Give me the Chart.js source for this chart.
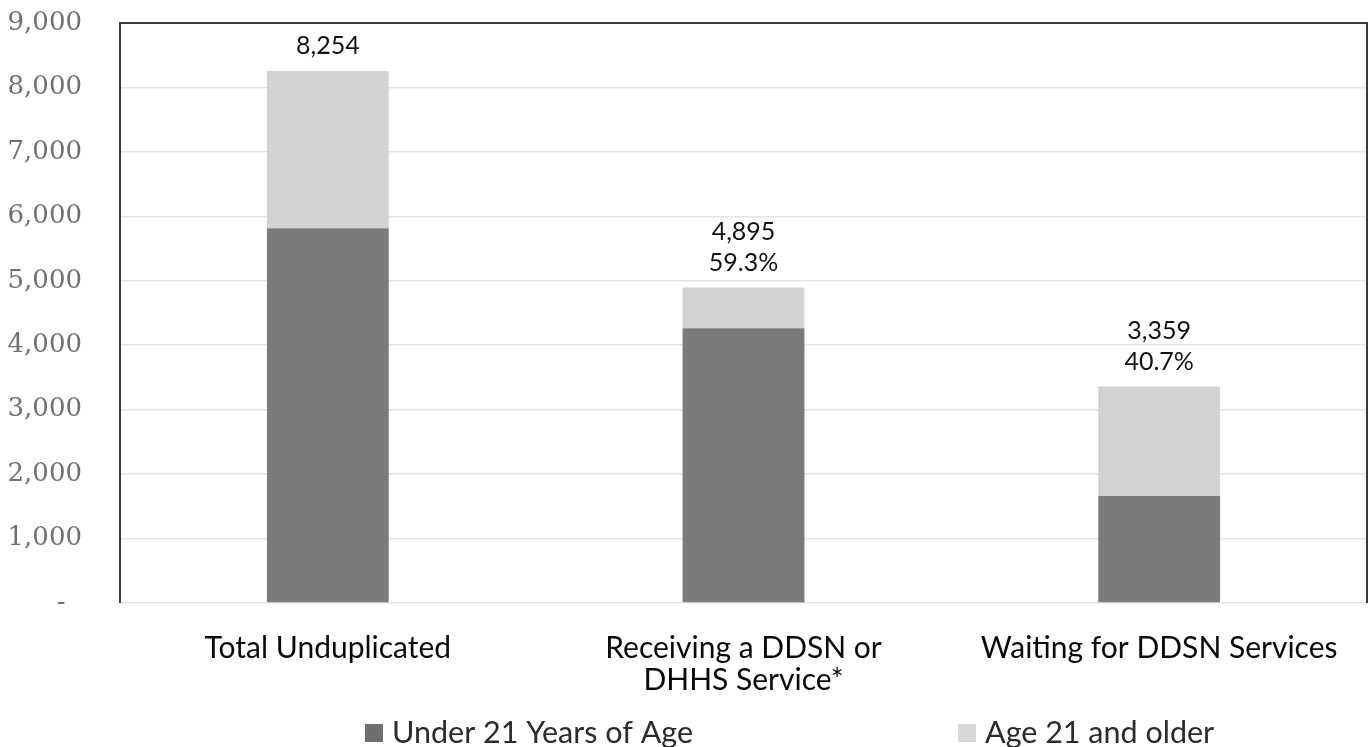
<!DOCTYPE html>
<html>
<head>
<meta charset="utf-8">
<script src="https://cdn.jsdelivr.net/npm/chart.js@4/dist/chart.umd.min.js"></script>
<style>
  html, body { margin: 0; padding: 0; background: #ffffff; }
  #wrap { width: 1369px; height: 747px; }
</style>
</head>
<body>
<div id="wrap"><canvas id="chart" width="1369" height="747"></canvas></div>
<script>
// Categories (multi-line labels as arrays)
const categories = [
  'Total Unduplicated',
  ['Receiving a DDSN or', 'DHHS Service*'],
  'Waiting for DDSN Services'
];
// Series values
const under21 = [5815, 4265, 1660];
const age21Plus = [2439, 630, 1699];
// Series names and colours
const seriesNames = ['Under 21 Years of Age', 'Age 21 and older'];
const seriesColors = ['#7b7b7b', '#d2d2d2'];
// Value-axis ticks
const yTicks = [0, 1000, 2000, 3000, 4000, 5000, 6000, 7000, 8000, 9000];

const fmt = v => v.toLocaleString('en-US');

// Total above each stacked bar, plus share of the first bar's total for the others
const totalLabels = {
  id: 'totalLabels',
  afterDatasetsDraw(chart) {
    const { ctx } = chart;
    const meta = chart.getDatasetMeta(1);
    const grand = under21[0] + age21Plus[0];
    ctx.save();
    ctx.font = '25px Lato';
    ctx.fillStyle = '#111111';
    ctx.textAlign = 'center';
    ctx.textBaseline = 'middle';
    meta.data.forEach((bar, i) => {
      const total = under21[i] + age21Plus[i];
      const lines = [fmt(total)];
      if (i > 0) lines.push((total / grand * 100).toFixed(1) + '%');
      const n = lines.length;
      lines.forEach((t, k) => {
        ctx.fillText(t, bar.x, bar.y - 25 - (n - 1 - k) * 31);
      });
    });
    ctx.restore();
  }
};

// Plot frame: dark on left, top and right, light baseline
const frame = {
  id: 'frame',
  afterDatasetsDraw(chart) {
    const { ctx, chartArea: a } = chart;
    ctx.save();
    ctx.strokeStyle = '#3a3a3a';
    ctx.lineWidth = 2;
    ctx.beginPath();
    ctx.moveTo(a.left, a.bottom);
    ctx.lineTo(a.left, a.top);
    ctx.lineTo(a.right, a.top);
    ctx.lineTo(a.right, a.bottom);
    ctx.stroke();
    ctx.restore();
  }
};

// Legend drawn below the category labels
const bottomLegend = {
  id: 'bottomLegend',
  afterDraw(chart) {
    const { ctx } = chart;
    const xs = [365, 958];
    const y = 733;
    const boxColors = ['#6f6f6f', '#d8d8d8'];
    ctx.save();
    ctx.font = '30.5px Lato';
    ctx.textBaseline = 'middle';
    ctx.textAlign = 'left';
    chart.data.datasets.forEach((ds, i) => {
      ctx.fillStyle = boxColors[i];
      ctx.fillRect(xs[i], y - 9, 18, 18);
      ctx.fillStyle = '#2b2b2b';
      ctx.fillText(ds.label, xs[i] + 27, y);
    });
    ctx.restore();
  }
};

new Chart(document.getElementById('chart'), {
  type: 'bar',
  data: {
    labels: categories,
    datasets: [
      { label: seriesNames[0], data: under21, backgroundColor: seriesColors[0] },
      { label: seriesNames[1], data: age21Plus, backgroundColor: seriesColors[1] }
    ]
  },
  options: {
    responsive: false,
    devicePixelRatio: 1,
    animation: false,
    layout: { padding: { top: 23, right: 2, left: 0, bottom: 0 } },
    datasets: { bar: { categoryPercentage: 1, barPercentage: 0.293 } },
    plugins: {
      legend: { display: false },
      tooltip: { enabled: false }
    },
    scales: {
      x: {
        stacked: true,
        grid: { display: false, drawTicks: false },
        border: { display: false },
        ticks: {
          font: { family: 'Lato', size: 30, lineHeight: 1.07 },
          color: '#0a0a0a',
          padding: 29,
          maxRotation: 0,
          autoSkip: false
        },
        afterFit(scale) { scale.height = 144; }
      },
      y: {
        stacked: true,
        min: 0,
        max: 9000,
        afterBuildTicks(scale) { scale.ticks = yTicks.map(v => ({ value: v })); },
        grid: { color: '#e4e4e4', lineWidth: 1.5, drawTicks: false },
        border: { display: false },
        ticks: {
          font: { family: 'DejaVu Serif', size: 26 },
          color: '#707070',
          padding: 38,
          callback: v => v === 0 ? '-  ' : fmt(v)
        },
        afterFit(scale) {
          scale.width = 120;
          scale.paddingTop = 0;
          scale.paddingBottom = 0;
        }
      }
    }
  },
  plugins: [totalLabels, frame, bottomLegend]
});
</script>
</body>
</html>
